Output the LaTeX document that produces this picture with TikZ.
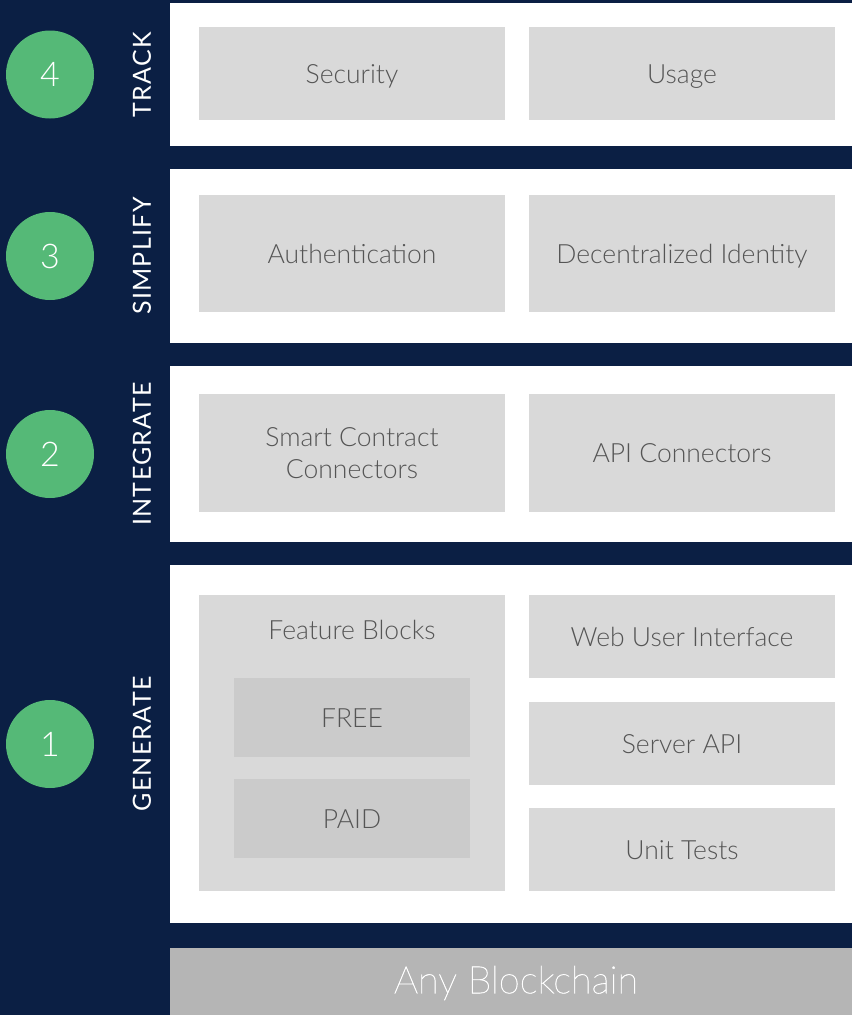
\documentclass[tikz,border=0pt]{standalone}
\usepackage{fontspec}
\setmainfont{Lato}[UprightFont=* Light]
\newfontfamily\labelfont{Lato}[LetterSpace=5]
\newfontfamily\thinfont{Lato Thin}[FakeBold=1.2]
\usetikzlibrary{positioning}
\definecolor{navy}{HTML}{0B1F44}
\definecolor{stepgreen}{HTML}{55B977}
\definecolor{boxgray}{HTML}{D9D9D9}
\definecolor{innergray}{HTML}{CBCBCB}
\definecolor{chaingray}{HTML}{B5B5B5}
\definecolor{textgray}{HTML}{555555}

\begin{document}
\begin{tikzpicture}[x=1pt, y=-1pt,
	block/.style={fill=boxgray, text=textgray, minimum width=306pt, inner sep=0pt, align=center, text height=19pt, text depth=0pt, font=\fontsize{26.5}{32}\selectfont},
	subblock/.style={block, fill=innergray, minimum width=236pt, minimum height=79pt},
	stepnum/.style={circle, fill=stepgreen, text=white, minimum size=88pt, inner sep=0pt, font=\fontsize{34}{34}\selectfont},
	steplabel/.style={rotate=90, text=white, font=\labelfont\fontsize{25}{25}\selectfont}]
	
	%//background and layer panels
	\fill[navy] (0,0) rectangle (852,1015);
	\useasboundingbox (0,0) rectangle (852,1015);
	
	\foreach \n/\top/\bot/\lbl in {4/3/146/TRACK, 3/169/343/SIMPLIFY, 2/366/542/INTEGRATE, 1/565/923/GENERATE}
	{
	\fill[white] (170,\top) rectangle (852,\bot);
	\node [stepnum] (num\n) at (50, {(\top+\bot)/2}) {\n};
	\node [steplabel] (lbl\n) at (142, {(\top+\bot)/2}) {\lbl};
	}
	
	%//layer 4
	\node [block, minimum height=93pt] (security) at (352, 73.5) {Security};
	\node [block, minimum height=93pt] (usage) at (682, 73.5) {Usage};
	
	%//layer 3
	\node [block, minimum height=117pt] (auth) at (352, 253.5) {Authentication};
	\node [block, minimum height=117pt] (identity) at (682, 253.5) {Decentralized Identity};
	
	%//layer 2
	\node [block, minimum height=118pt, text height={}, text depth={}] (contracts) at (352, 453) {Smart Contract\\Connectors};
	\node [block, minimum height=118pt] (apiconn) at (682, 453) {API Connectors};
	
	%//layer 1
	\node [block, minimum height=296pt] (features) at (352, 743) {};
	\node [text=textgray, font=\fontsize{26.5}{32}\selectfont] (featlbl) at (352, 630) {Feature Blocks};
	\node [subblock] (free) at (352, 717.5) {FREE};
	\node [subblock] (paid) at (352, 818.5) {PAID};
	
	\foreach \y/\name/\txt in {636.5/webui/Web User Interface, 743.5/server/Server API, 849.5/tests/Unit Tests}
	\node [block, minimum height=83pt] (\name) at (682, \y) {\txt};
	
	%//base
	\fill[chaingray] (170,948) rectangle (852,1015);
	\node [text=white, font=\thinfont\fontsize{38}{38}\selectfont] (chain) at (516, 983) {Any Blockchain};
\end{tikzpicture}
\end{document}
